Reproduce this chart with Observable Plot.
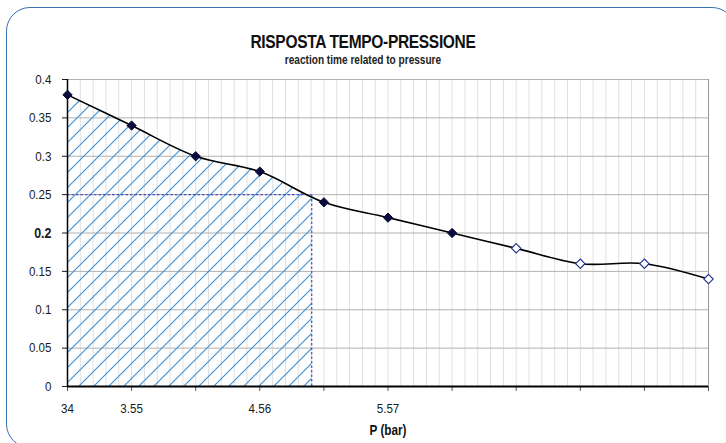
<!DOCTYPE html>
<html>
<head>
<meta charset="utf-8">
<script src="https://cdn.jsdelivr.net/npm/d3@7"></script>
<script src="https://cdn.jsdelivr.net/npm/@observablehq/plot@0.6"></script>
<style>
  html, body { margin: 0; padding: 0; background: #fff; }
  body { width: 726px; height: 443px; overflow: hidden; position: relative;
         font-family: "Liberation Sans", Arial, sans-serif; }
  #frame { position: absolute; left: 6px; top: 7px; width: 730px; height: 441px;
           border: 1.3px solid #3a72ad; border-radius: 24px; box-sizing: border-box; }
  .hd { position: absolute; left: 0; width: 726px; text-align: center; color: #111;
        transform: scaleX(0.84); transform-origin: 363px 0; white-space: nowrap; }
  #title { top: 31px; font-size: 18.5px; font-weight: bold; letter-spacing: -0.4px; }
  #subtitle { top: 53px; font-size: 12px; font-weight: bold; color: #222; }
  #xlabel { top: 422px; left: 0; width: 776px; font-size: 14px; font-weight: bold;
            transform-origin: 388px 0; }
  #chart { position: absolute; left: 0; top: 0; }
</style>
</head>
<body>
<div id="frame"></div>
<div id="chart"></div>
<div id="title" class="hd">RISPOSTA TEMPO-PRESSIONE</div>
<div id="subtitle" class="hd">reaction time related to pressure</div>
<div id="xlabel" class="hd">P (bar)</div>
<script>
// ---- data ----
const pressureLabels = ["34", "3.55", "", "4.56", "", "5.57", "", "", "", "", ""];
const reactionTime = [0.38, 0.34, 0.30, 0.28, 0.24, 0.22, 0.20, 0.18, 0.16, 0.16, 0.14];
const measured = [true, true, true, true, true, true, true, false, false, false, false];
const yTickValues = [0, 0.05, 0.1, 0.15, 0.2, 0.25, 0.3, 0.35, 0.4];
const boldYTick = [0.2];
const thresholdTime = 0.25;
const thresholdPos = 3.81;

const data = reactionTime.map((v, i) => ({i, v, label: pressureLabels[i], filled: measured[i]}));
const positions = data.map(d => d.i);

const font = '"Liberation Sans", Arial, sans-serif';

const chart = Plot.plot({
  width: 726,
  height: 443,
  marginLeft: 67,
  marginRight: 18,
  marginTop: 79,
  marginBottom: 57,
  style: {fontFamily: font, fontSize: "13px", color: "#1a1a1a", background: "transparent"},
  x: {domain: [0, positions.length - 1]},
  y: {domain: [0, 0.4]},
  marks: [
    // minor vertical grid
    Plot.gridX(d3.range(0, (positions.length - 1) * 5 + 1).map(k => k / 5), {stroke: "#e0e0e0", strokeOpacity: 1, strokeWidth: 1}),
    // horizontal grid
    Plot.gridY(yTickValues, {stroke: "#b0b0b0", strokeOpacity: 1, strokeWidth: 1}),
    Plot.ruleX([positions.length - 1], {stroke: "#9a9a9a", strokeWidth: 1}),
    // hatched area
    Plot.areaY(data, {x: "i", y: "v", curve: "catmull-rom", fill: "url(#hatch)"}),
    // threshold dashed lines
    Plot.ruleY([thresholdTime], {x1: 0, x2: thresholdPos, stroke: "#4650c0", strokeWidth: 1.2, strokeDasharray: "2.5,2"}),
    Plot.ruleX([thresholdPos], {y1: 0, y2: thresholdTime, stroke: "#4650c0", strokeWidth: 1.2, strokeDasharray: "2.5,2"}),
    // axes
    Plot.axisY(yTickValues.filter(t => !boldYTick.includes(t)), {tickSize: 5, tickPadding: 11, tickFormat: d3.format("~g"), label: null}),
    Plot.axisY(boldYTick, {tickSize: 5, tickPadding: 11, tickFormat: d3.format("~g"), label: null, fontWeight: "bold"}),
    Plot.ruleX([0], {stroke: "#000", strokeWidth: 1.5}),
    Plot.axisX(positions, {tickSize: 5, tickPadding: 12, tickFormat: i => pressureLabels[i], label: null, stroke: "#555"}),
    Plot.ruleY([0], {stroke: "#000", strokeWidth: 1.8}),
    // curve
    Plot.line(data, {x: "i", y: "v", curve: "catmull-rom", stroke: "#000", strokeWidth: 1.6}),
    // markers
    Plot.dot(data.filter(d => d.filled), {x: "i", y: "v", symbol: "diamond2", r: 4.2, fill: "#0c0c3c", stroke: "#0c0c3c", strokeWidth: 1}),
    Plot.dot(data.filter(d => !d.filled), {x: "i", y: "v", symbol: "diamond2", r: 4.2, fill: "#fff", stroke: "#2c3490", strokeWidth: 1.2})
  ]
});

// hatch pattern + clip for area
const svg = d3.select(chart);
const xs = chart.scale("x");
const ys = chart.scale("y");
const defs = svg.insert("defs", ":first-child");
const pat = defs.append("pattern").attr("id", "hatch").attr("patternUnits", "userSpaceOnUse")
  .attr("width", 15).attr("height", 15);
pat.append("path").attr("d", "M0,15 L15,0 M-3.75,3.75 L3.75,-3.75 M11.25,18.75 L18.75,11.25")
  .attr("stroke", "#3a8fd6").attr("stroke-width", 1.1).attr("fill", "none");
const x0 = xs.apply(0), x1 = xs.apply(thresholdPos);
defs.append("clipPath").attr("id", "areaClip").append("rect")
  .attr("x", x0).attr("y", ys.apply(0.4) - 10).attr("width", x1 - x0).attr("height", ys.apply(0) - ys.apply(0.4) + 10);
svg.selectAll('g[aria-label="area"]').attr("clip-path", "url(#areaClip)");

// axis tick label typography: larger, condensed glyphs anchored at each label's own position
svg.selectAll('g[aria-label$="tick label"] text').each(function() {
  const bold = this.parentNode.getAttribute("font-weight") === "bold";
  this.style.fontSize = bold ? "14.5px" : "13.5px";
  const t = this.getAttribute("transform") || "";
  this.setAttribute("transform", t + " scale(0.86,1)");
});

document.getElementById("chart").appendChild(chart);
</script>
</body>
</html>
